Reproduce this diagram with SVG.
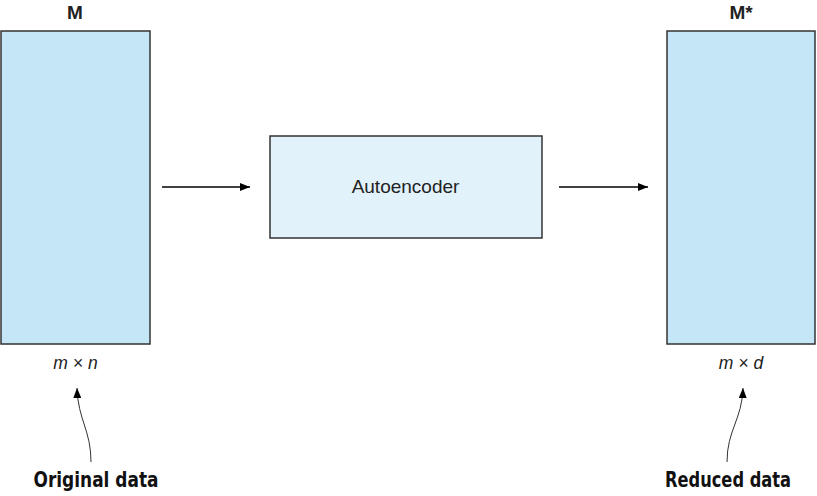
<svg xmlns="http://www.w3.org/2000/svg" width="817" height="496" viewBox="0 0 817 496">
<defs>
<marker id="ah" markerWidth="10" markerHeight="8" refX="10" refY="4" orient="auto" markerUnits="userSpaceOnUse">
<path d="M0,0 L10,4 L0,8 Z" fill="#000"/>
</marker>
<style>
.mat{fill:#c4e6f6;stroke:#333;stroke-width:1.5}
.box{fill:#e1f2fa;stroke:#333;stroke-width:1.5}
.lbl{font-family:"Liberation Sans",Arial,sans-serif;font-size:19px;font-weight:bold;fill:#222;text-anchor:middle}
.dim{font-family:"Liberation Sans",Arial,sans-serif;font-size:17.5px;font-style:italic;fill:#222;text-anchor:middle}
.ann{font-family:"DejaVu Sans Condensed","DejaVu Sans",sans-serif;font-size:22px;font-weight:bold;fill:#111;text-anchor:middle}
.ae{font-family:"Liberation Sans",Arial,sans-serif;font-size:19px;fill:#222;text-anchor:middle}
.conn{fill:none;stroke:#000;stroke-width:1.5}
.curve{fill:none;stroke:#333;stroke-width:1}
</style>
</defs>
<g id="M">
<rect class="mat" x="1" y="31" width="149" height="313"/>
<text class="lbl" x="75" y="19">M</text>
<text class="dim" x="75.5" y="369">m × n</text>
</g>
<g id="Mstar">
<rect class="mat" x="667" y="31" width="148" height="313"/>
<text class="lbl" x="741" y="19">M*</text>
<text class="dim" x="741" y="369">m × d</text>
</g>
<g id="autoencoder">
<rect class="box" x="270" y="136" width="272" height="102"/>
<text class="ae" x="405.5" y="193">Autoencoder</text>
</g>
<g id="original">
<text class="ann" x="96" y="487" textLength="125" lengthAdjust="spacingAndGlyphs">Original data</text>
</g>
<g id="reduced">
<text class="ann" x="728" y="487" textLength="126" lengthAdjust="spacingAndGlyphs">Reduced data</text>
</g>
<g id="connectors">
<line class="conn" x1="162" y1="187" x2="250" y2="187" marker-end="url(#ah)"/>
<line class="conn" x1="559" y1="187" x2="648" y2="187" marker-end="url(#ah)"/>
<path class="curve" d="M91,462 C91,430 78,420 77,388" marker-end="url(#ah)"/>
<path class="curve" d="M727,462 C727,430 742,420 743,388" marker-end="url(#ah)"/>
</g>
</svg>
